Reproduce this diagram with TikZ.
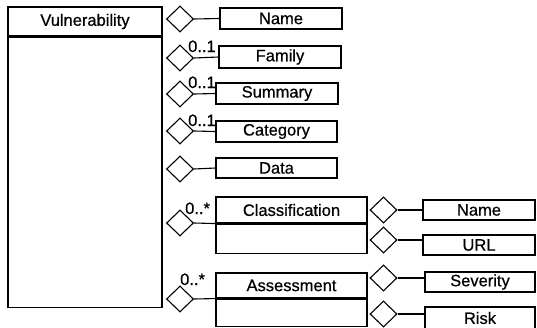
\documentclass[tikz,border=0pt]{standalone}
\usepackage{fontspec}
\setmainfont{Liberation Sans}[FakeBold=0.6]
\usetikzlibrary{shapes.geometric}
\begin{document}
\begin{tikzpicture}[x=1pt,y=-1pt,
  every node/.style={font=\fontsize{16.5}{18}\selectfont},
  box/.style={draw,line width=1.1pt,rectangle,inner sep=0pt,anchor=center},
  agg/.style={draw,line width=1.1pt,diamond,inner sep=0pt,minimum width=27pt,minimum height=26pt},
  link/.style={line width=1.1pt},
  mult/.style={inner sep=0pt,anchor=base west}]
\useasboundingbox (0,0) rectangle (537,327);
\clip (0,0) rectangle (537,327);

% main class
\node[box,minimum width=154pt,minimum height=29pt] (vul) at (85,21.5) {Vulnerability};
\node[box,minimum width=154pt,minimum height=270pt,anchor=north] (vulbody) at (vul.south) {};

% simple attributes
\node[agg] (dname) at (180,19) {};
\node[box,minimum width=122pt,minimum height=21pt] (name) at (281,18.5) {Name};
\draw[link] (dname.east) -- (name.west);

\node[agg] (dfam) at (180,58) {};
\node[box,minimum width=122pt,minimum height=22pt] (fam) at (280,57) {Family};
\draw[link] (dfam.east) -- (fam.west);
\node[mult] at (188,52) {0..1};

\node[agg] (dsum) at (180,94) {};
\node[box,minimum width=122pt,minimum height=21pt] (sum) at (277,93.5) {Summary};
\draw[link] (dsum.east) -- (sum.west);
\node[mult] at (188,88) {0..1};

\node[agg] (dcat) at (180,131) {};
\node[box,minimum width=121pt,minimum height=21pt] (cat) at (276.5,131.5) {Category};
\draw[link] (dcat.east) -- (cat.west);
\node[mult] at (188,126) {0..1};

\node[agg] (ddata) at (180,169) {};
\node[box,minimum width=121pt,minimum height=20pt] (data) at (276.5,168) {Data};
\draw[link] (ddata.east) -- (data.west);

% Classification class
\node[agg] (dcls) at (180,223) {};
\node[box,minimum width=151pt,minimum height=26pt] (cls) at (291.5,210) {Classification};
\node[box,minimum width=151pt,minimum height=29pt,anchor=north] (clsbody) at (cls.south) {};
\draw[link] (dcls.east) -- (cls.south west);
\node[mult] at (185,214) {0..*};

\node[agg] (dcname) at (383.5,210) {};
\node[box,minimum width=112pt,minimum height=20pt] (cname) at (479,210) {Name};
\draw[link] (dcname.east) -- (cname.west);

\node[agg] (dcurl) at (383.5,240) {};
\node[box,minimum width=112pt,minimum height=20pt] (curl) at (479,245) {URL};
\draw[link] (dcurl.east) -- (curl.west |- dcurl.east);

% Assessment class
\node[agg] (dasm) at (180,299) {};
\node[box,minimum width=151pt,minimum height=25pt] (asm) at (291.5,285.5) {Assessment};
\node[box,minimum width=151pt,minimum height=27pt,anchor=north] (asmbody) at (asm.south) {};
\draw[link] (dasm.east) -- (asm.south west);
\node[mult] at (180,285) {0..*};

\node[agg] (dsev) at (383.5,278) {};
\node[box,minimum width=110pt,minimum height=20pt] (sev) at (480,282) {Severity};
\draw[link] (dsev.east) -- (sev.west |- dsev.east);

\node[agg] (drisk) at (383.5,314) {};
\node[box,minimum width=110pt,minimum height=22pt] (risk) at (480,318) {Risk};
\draw[link] (drisk.east) -- (risk.west |- drisk.east);
\end{tikzpicture}
\end{document}
